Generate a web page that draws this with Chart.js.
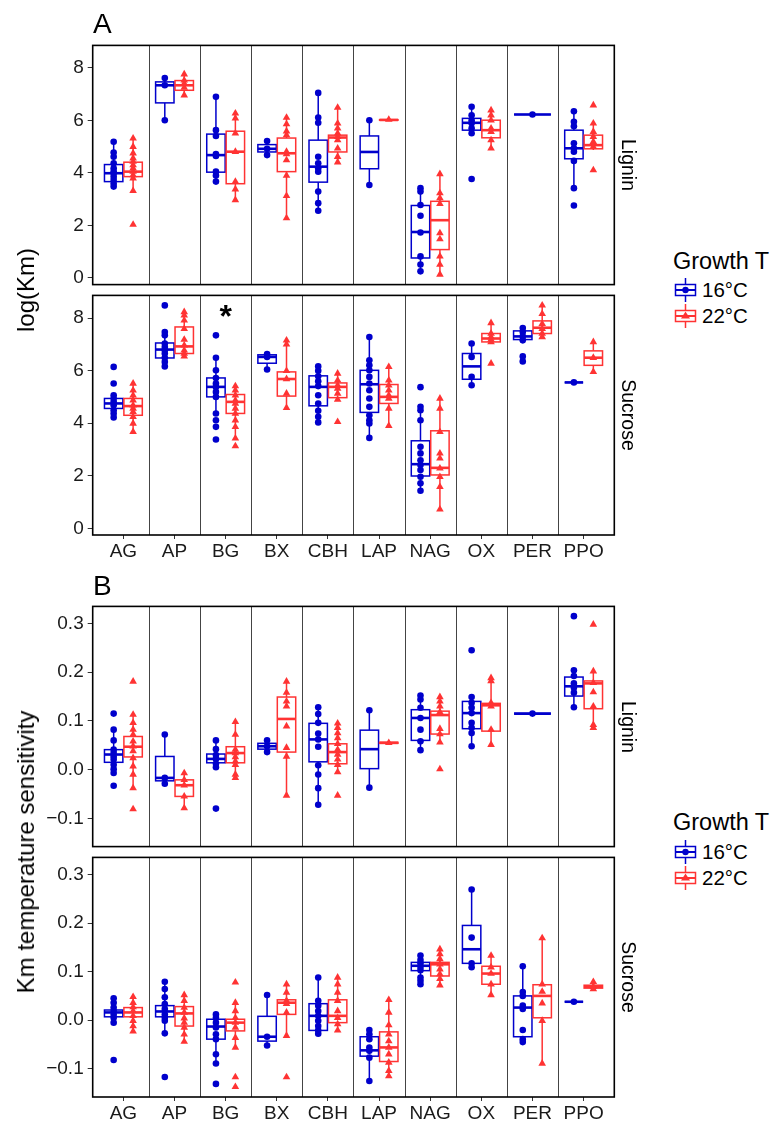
<!DOCTYPE html>
<html>
<head>
<meta charset="utf-8">
<script src="https://cdn.jsdelivr.net/npm/chart.js@4.4.0/dist/chart.umd.min.js"></script>
<style>
body { margin: 0; width: 777px; height: 1122px; overflow: hidden; background: #fff; position: relative;
       font-family: "Liberation Sans", Arial, Helvetica, sans-serif; }
canvas { position: absolute; left: 0; }
.lbl { position: absolute; color: #000; white-space: nowrap; line-height: 1; }
.key { position: absolute; }
</style>
</head>
<body>
<script>
const categories = ['AG', 'AP', 'BG', 'BX', 'CBH', 'LAP', 'NAG', 'OX', 'PER', 'PPO'];
const kmTicks = [0, 2, 4, 6, 8];
const sensTicks = [-0.1, 0, 0.1, 0.2, 0.3];
const blue = '#0000CC';
const red = '#FF3333';

// box stats per category: [lower whisker, Q1, median, Q3, upper whisker]; null = group absent
const ligninKm16Box = [
    [3.44, 3.67, 3.99, 4.32, 5.23], [6.01, 6.67, 7.34, 7.47, 7.62], [3.67, 4.03, 4.68, 5.48, 6.9],
    [4.68, 4.8, 4.92, 5.08, 5.22], [2.56, 3.65, 4.24, 5.25, 7.05], [3.54, 4.16, 4.8, 5.41, 6.01],
    [0.25, 0.76, 1.75, 2.76, 3.42], [5.51, 5.63, 5.91, 6.08, 6.52], [6.23, 6.23, 6.23, 6.23, 6.23],
    [3.42, 4.54, 4.94, 5.63, 6.35]
];
const ligninKm16Pts = [
    [5.19, 4.78, 4.62, 4.37, 4.18, 4.05, 3.99, 3.86, 3.73, 3.6, 3.48], [7.62, 7.34, 6.01],
    [6.9, 5.63, 5.41, 4.72, 4.65, 4.05, 3.9, 3.67], [5.22, 4.92, 4.68],
    [7.05, 6.11, 5.91, 4.62, 4.37, 4.18, 4.05, 3.29, 2.85, 2.56], [6.01, 3.54],
    [3.42, 3.29, 2.78, 2.37, 1.73, 0.82, 0.51, 0.25], [6.52, 6.2, 6.01, 5.89, 5.7, 5.51, 3.77],
    [6.23], [6.35, 5.95, 5.78, 5.13, 4.94, 4.81, 4.46, 3.42, 2.76]
];
const ligninKm22Box = [
    [3.29, 3.86, 4.05, 4.41, 5.32], [6.96, 7.15, 7.34, 7.52, 7.76], [2.97, 3.59, 4.81, 5.59, 6.27],
    [2.28, 4.05, 4.75, 5.33, 6.11], [4.41, 4.8, 5.35, 5.44, 6.49], [6.01, 6.01, 6.02, 6.03, 6.05],
    [0.13, 1.08, 2.2, 2.92, 3.96], [4.87, 5.34, 5.63, 6.01, 6.39], null,
    [4.87, 4.92, 5.06, 5.44, 5.89]
];
const ligninKm22Pts = [
    [5.32, 5.0, 4.75, 4.56, 4.43, 4.3, 4.18, 4.05, 3.92, 3.8, 3.32, 2.03], [7.76, 7.53, 7.41, 7.25, 6.96],
    [6.27, 6.08, 5.51, 4.81, 3.67, 3.38, 2.97], [6.11, 5.86, 5.59, 5.44, 4.81, 4.72, 4.49, 3.9, 3.13, 2.28],
    [6.49, 5.89, 5.7, 5.51, 5.38, 5.25, 4.94, 4.62, 4.41], [6.03],
    [3.96, 3.23, 3.04, 2.82, 1.71, 1.48, 0.82, 0.51, 0.13], [6.39, 6.2, 6.01, 5.7, 5.57, 5.25, 4.94],
    [], [6.58, 5.89, 5.57, 5.38, 5.19, 5.0, 4.11]
];

const sucroseKm16Box = [
    [4.22, 4.56, 4.75, 4.94, 5.06], [6.16, 6.48, 6.8, 7.05, 7.47], [4.37, 5.0, 5.38, 5.72, 6.49],
    [6.04, 6.28, 6.52, 6.6, 6.63], [4.03, 4.66, 5.38, 5.8, 6.16], [3.44, 4.41, 5.48, 6.01, 7.28],
    [1.43, 1.99, 2.44, 3.33, 4.62], [5.44, 5.67, 6.16, 6.65, 7.03], [7.15, 7.18, 7.3, 7.51, 7.62],
    [5.55, 5.55, 5.55, 5.55, 5.55]
];
const sucroseKm16Pts = [
    [6.14, 5.51, 5.06, 4.94, 4.81, 4.68, 4.49, 4.37, 4.22], [8.48, 7.47, 7.34, 7.03, 6.9, 6.77, 6.65, 6.49, 6.33, 6.16],
    [7.34, 6.49, 6.01, 5.72, 5.51, 5.38, 5.19, 5.0, 4.37, 4.11, 3.86, 3.38], [6.63, 6.52, 6.04],
    [6.16, 5.99, 5.78, 5.59, 5.41, 5.06, 4.75, 4.47, 4.24, 4.03],
    [7.28, 6.39, 6.2, 6.01, 5.76, 5.51, 5.25, 4.94, 4.62, 4.3, 4.11, 3.99, 3.44],
    [5.37, 4.62, 4.49, 4.11, 3.1, 2.85, 2.59, 2.41, 2.22, 1.96, 1.71, 1.43], [7.03, 6.52, 5.76, 5.44],
    [7.62, 7.47, 7.3, 7.15, 6.54, 6.35], [5.55]
];
const sucroseKm22Box = [
    [3.67, 4.3, 4.65, 4.94, 5.51], [6.54, 6.65, 6.92, 7.66, 8.23], [3.42, 4.37, 4.81, 5.09, 5.41],
    [4.58, 5.03, 5.68, 5.95, 7.15], [4.87, 4.97, 5.38, 5.53, 5.89], [3.9, 4.75, 5.0, 5.47, 6.14],
    [0.72, 2.03, 2.3, 3.71, 4.94], [7.09, 7.09, 7.22, 7.41, 7.81], [7.28, 7.41, 7.63, 7.89, 8.48],
    [5.95, 6.2, 6.49, 6.75, 7.09]
];
const sucroseKm22Pts = [
    [5.51, 5.25, 5.06, 4.87, 4.68, 4.56, 4.43, 4.24, 3.99, 3.67], [8.23, 8.1, 7.91, 7.59, 7.18, 6.96, 6.77, 6.65, 6.54],
    [5.41, 5.25, 5.06, 4.87, 4.75, 4.56, 4.37, 4.11, 3.86, 3.42, 3.13], [7.15, 7.0, 5.99, 5.68, 5.13, 4.58],
    [5.89, 5.63, 5.44, 5.32, 5.13, 4.9, 4.05], [6.14, 5.63, 5.44, 5.25, 5.06, 4.94, 4.56, 3.9],
    [4.94, 4.56, 3.67, 2.85, 2.66, 2.28, 1.96, 1.58, 0.72], [7.81, 7.41, 7.28, 7.18, 7.09, 6.27],
    [8.48, 8.16, 7.78, 7.59, 7.41, 7.28], [7.09, 6.49, 5.95]
];

const ligninSens16Box = [
    [-0.007, 0.015, 0.031, 0.041, 0.082], [-0.029, -0.023, -0.017, 0.027, 0.072], [0.005, 0.014, 0.022, 0.032, 0.06],
    [0.036, 0.042, 0.048, 0.054, 0.06], [-0.072, 0.016, 0.062, 0.095, 0.128], [-0.037, 0.002, 0.042, 0.081, 0.122],
    [0.04, 0.06, 0.106, 0.123, 0.152], [0.048, 0.084, 0.116, 0.14, 0.149], [0.115, 0.115, 0.115, 0.115, 0.115],
    [0.128, 0.151, 0.171, 0.19, 0.204]
];
const ligninSens16Pts = [
    [0.115, 0.082, 0.06, 0.041, 0.034, 0.027, 0.021, 0.01, 0.001, -0.007, -0.033], [0.072, -0.017, -0.029],
    [0.06, 0.042, 0.03, 0.022, 0.012, 0.005, -0.08], [0.06, 0.048, 0.036],
    [0.128, 0.114, 0.096, 0.074, 0.062, 0.047, 0.009, -0.01, -0.038, -0.072], [0.122, -0.037],
    [0.152, 0.144, 0.127, 0.106, 0.082, 0.058, 0.04], [0.245, 0.149, 0.137, 0.127, 0.116, 0.096, 0.086, 0.075, 0.048],
    [0.115], [0.315, 0.204, 0.192, 0.177, 0.168, 0.158, 0.128]
];
const ligninSens22Box = [
    [-0.038, 0.026, 0.047, 0.068, 0.113], [-0.079, -0.055, -0.032, -0.021, -0.007], [-0.017, 0.014, 0.034, 0.047, 0.098],
    [-0.053, 0.036, 0.104, 0.149, 0.181], [-0.005, 0.012, 0.036, 0.053, 0.095], [0.053, 0.054, 0.055, 0.056, 0.057],
    [0.053, 0.073, 0.112, 0.12, 0.149], [0.051, 0.079, 0.132, 0.136, 0.188], null,
    [0.086, 0.125, 0.177, 0.182, 0.202]
];
const ligninSens22Pts = [
    [0.181, 0.113, 0.096, 0.082, 0.072, 0.058, 0.048, 0.038, 0.024, 0.007, -0.01, -0.038, -0.081],
    [-0.007, -0.021, -0.032, -0.055, -0.079], [0.098, 0.072, 0.041, 0.034, 0.026, 0.017, 0.01, -0.01, -0.017],
    [0.181, 0.158, 0.14, 0.13, 0.089, 0.045, 0.027, -0.053],
    [0.095, 0.086, 0.075, 0.065, 0.053, 0.041, 0.031, 0.021, 0.01, -0.005, -0.053], [0.055],
    [0.149, 0.14, 0.13, 0.118, 0.084, 0.073, 0.056, 0.001], [0.188, 0.182, 0.137, 0.13, 0.082, 0.051],
    [], [0.298, 0.202, 0.178, 0.159, 0.13, 0.092, 0.086]
];

const sucroseSens16Box = [
    [-0.005, 0.007, 0.016, 0.021, 0.045], [-0.027, 0.007, 0.018, 0.03, 0.079], [-0.089, -0.039, -0.013, 0.002, 0.012],
    [-0.052, -0.043, -0.034, 0.008, 0.052], [-0.028, -0.021, 0.009, 0.034, 0.088], [-0.125, -0.074, -0.062, -0.034, -0.02],
    [0.081, 0.102, 0.112, 0.119, 0.133], [0.109, 0.117, 0.146, 0.195, 0.269], [-0.045, -0.034, 0.026, 0.05, 0.111],
    [0.038, 0.038, 0.038, 0.038, 0.038]
];
const sucroseSens16Pts = [
    [0.045, 0.036, 0.026, 0.019, 0.012, 0.005, -0.005, -0.082],
    [0.079, 0.064, 0.047, 0.033, 0.023, 0.012, 0.005, -0.001, -0.027, -0.117],
    [0.012, 0.005, -0.005, -0.015, -0.029, -0.039, -0.07, -0.089, -0.131], [0.052, -0.034, -0.052],
    [0.088, 0.04, 0.03, 0.019, 0.009, -0.001, -0.012, -0.021, -0.028],
    [-0.02, -0.029, -0.039, -0.056, -0.063, -0.077, -0.125],
    [0.133, 0.124, 0.117, 0.11, 0.103, 0.088, 0.081, 0.074], [0.269, 0.17, 0.117, 0.109],
    [0.111, 0.058, 0.05, 0.03, 0.023, -0.02, -0.039, -0.045], [0.038]
];
const sucroseSens22Box = [
    [-0.023, 0.007, 0.016, 0.026, 0.048], [-0.044, -0.012, 0.014, 0.028, 0.052], [-0.056, -0.022, -0.005, 0.002, 0.036],
    [-0.032, 0.012, 0.036, 0.042, 0.074], [-0.021, -0.005, 0.009, 0.042, 0.088], [-0.115, -0.085, -0.056, -0.024, 0.042],
    [0.072, 0.091, 0.115, 0.119, 0.146], [0.052, 0.074, 0.096, 0.111, 0.133], [-0.089, 0.005, 0.05, 0.073, 0.169],
    [0.064, 0.066, 0.069, 0.072, 0.079]
];
const sucroseSens22Pts = [
    [0.048, 0.036, 0.027, 0.019, 0.009, -0.001, -0.012, -0.023],
    [0.052, 0.04, 0.026, 0.016, 0.004, -0.005, -0.015, -0.029, -0.044],
    [0.078, 0.036, 0.019, 0.005, -0.005, -0.015, -0.036, -0.056, -0.117, -0.137],
    [0.074, 0.057, 0.04, 0.034, 0.016, -0.032, -0.117], [0.088, 0.074, 0.057, 0.04, 0.019, 0.005, -0.008, -0.021],
    [0.042, 0.016, -0.01, -0.029, -0.043, -0.056, -0.07, -0.087, -0.104, -0.115],
    [0.146, 0.136, 0.126, 0.115, 0.105, 0.095, 0.085, 0.072], [0.133, 0.109, 0.096, 0.074, 0.052],
    [0.169, 0.074, 0.059, 0.035, -0.001, -0.089], [0.079, 0.069, 0.064]
];

const fontFamily = '"Liberation Sans", Arial, Helvetica, sans-serif';
const dodge = 0.19;

function boxPlugin(groups) {
    return {
        id: 'boxes',
        beforeDatasetsDraw(chart) {
            const { ctx, chartArea: a, scales: { x, y } } = chart;
            ctx.save();
            ctx.strokeStyle = '#444';
            ctx.lineWidth = 1;
            for (let i = 1; i < categories.length; i++) {
                const px = Math.round(x.getPixelForValue(i + 0.5)) + 0.5;
                ctx.beginPath();
                ctx.moveTo(px, a.top);
                ctx.lineTo(px, a.bottom);
                ctx.stroke();
            }
            groups.forEach(g => {
                g.boxes.forEach((b, i) => {
                    if (!b) return;
                    const solo = !g.other[i];
                    const cx = i + 1 + (solo ? 0 : g.offset);
                    const hw = solo ? 0.36 : 0.18;
                    const l = x.getPixelForValue(cx - hw);
                    const r = x.getPixelForValue(cx + hw);
                    const c = x.getPixelForValue(cx);
                    const [mn, q1, md, q3, mx] = b.map(v => y.getPixelForValue(v));
                    ctx.strokeStyle = g.color;
                    ctx.lineWidth = 1.5;
                    ctx.beginPath();
                    ctx.moveTo(c, mx); ctx.lineTo(c, q3);
                    ctx.moveTo(c, q1); ctx.lineTo(c, mn);
                    ctx.stroke();
                    ctx.fillStyle = '#fff';
                    ctx.fillRect(l, q3, r - l, q1 - q3);
                    ctx.strokeRect(l, q3, r - l, q1 - q3);
                    ctx.lineWidth = 2.6;
                    ctx.beginPath();
                    ctx.moveTo(l, md); ctx.lineTo(r, md);
                    ctx.stroke();
                });
            });
            ctx.restore();
        },
        afterDraw(chart) {
            const { ctx, chartArea: a } = chart;
            ctx.save();
            ctx.strokeStyle = '#000';
            ctx.lineWidth = 1.6;
            ctx.strokeRect(a.left, a.top, a.right - a.left, a.bottom - a.top);
            ctx.restore();
        }
    };
}

function pointData(pts, other, offset) {
    const out = [];
    pts.forEach((vals, i) => {
        const cx = i + 1 + (other[i] ? offset : 0);
        vals.forEach(v => out.push({ x: cx, y: v }));
    });
    return out;
}

function makePanel(top, areaH, withX, box16, pts16, box22, pts22, yMin, yMax, yTicks, fmt) {
    const padTop = 15;
    const padBottom = withX ? 0 : 15;
    const xH = withX ? 25 : 0;
    const canvas = document.createElement('canvas');
    canvas.width = 660;
    canvas.height = padTop + areaH + padBottom + xH;
    canvas.style.top = (top - padTop) + 'px';
    document.body.appendChild(canvas);

    const tickFont = { size: 19, family: fontFamily };
    new Chart(canvas, {
        type: 'scatter',
        data: {
            datasets: [
                {
                    data: pointData(pts16, box22, -dodge),
                    pointStyle: 'circle', pointRadius: 3.3, borderWidth: 0,
                    backgroundColor: blue
                },
                {
                    data: pointData(pts22, box16, dodge),
                    pointStyle: 'triangle', pointRadius: 4.4, borderWidth: 0,
                    backgroundColor: red
                }
            ]
        },
        options: {
            responsive: false,
            animation: false,
            events: [],
            layout: { padding: { top: padTop, bottom: padBottom, left: 0, right: 660 - 614.3 } },
            plugins: { legend: { display: false }, tooltip: { enabled: false } },
            scales: {
                x: {
                    type: 'linear', min: 0.4, max: 10.6, display: withX,
                    afterBuildTicks: s => { s.ticks = categories.map((c, i) => ({ value: i + 1 })); },
                    afterFit: s => { s.height = xH; },
                    grid: { drawOnChartArea: false, drawTicks: true, tickLength: 4, color: '#333' },
                    border: { display: false },
                    ticks: {
                        autoSkip: false, maxRotation: 0, padding: 1, color: '#1a1a1a', font: tickFont,
                        callback: v => categories[Math.round(v) - 1]
                    }
                },
                y: {
                    type: 'linear', min: yMin, max: yMax,
                    afterBuildTicks: s => { s.ticks = yTicks.map(v => ({ value: v })); },
                    afterFit: s => { s.width = 92.7; },
                    grid: { drawOnChartArea: false, drawTicks: true, tickLength: 5, color: '#333' },
                    border: { display: false },
                    ticks: { padding: 4, color: '#1a1a1a', font: tickFont, callback: fmt }
                }
            }
        },
        plugins: [boxPlugin([
            { boxes: box16, other: box22, offset: -dodge, color: blue },
            { boxes: box22, other: box16, offset: dodge, color: red }
        ])]
    });
}

function addLabel(text, x, y, size, extra) {
    const d = document.createElement('div');
    d.className = 'lbl';
    d.textContent = text;
    d.style.left = x + 'px';
    d.style.top = y + 'px';
    d.style.fontSize = size + 'px';
    d.style.transform = extra || 'translate(-50%, -50%)';
    document.body.appendChild(d);
    return d;
}

function addLegend(titleY, y16, y22) {
    addLabel('Growth T', 673, titleY, 23.5, 'translateY(-50%)');
    [[y16, blue, '16°C', 'circle'], [y22, red, '22°C', 'tri']].forEach(([yy, col, txt, shape]) => {
        const k = document.createElement('div');
        k.className = 'key';
        k.style.left = '674px';
        k.style.top = (yy - 12) + 'px';
        const mark = shape === 'circle'
            ? `<circle cx="11.5" cy="12" r="3.2" fill="${col}"/>`
            : `<polygon points="11.5,7.5 16,14.5 7,14.5" fill="${col}"/>`;
        k.innerHTML = `<svg width="23" height="24">
            <line x1="11.5" y1="0" x2="11.5" y2="24" stroke="${col}" stroke-width="1.5"/>
            <rect x="1.5" y="6.5" width="20" height="11" fill="#fff" stroke="${col}" stroke-width="1.5"/>
            <line x1="1.5" y1="12" x2="21.5" y2="12" stroke="${col}" stroke-width="2"/>
            ${mark}</svg>`;
        document.body.appendChild(k);
        addLabel(txt, 702, yy, 20.5, 'translateY(-50%)');
    });
}

const intFmt = v => String(v);
const decFmt = v => v.toFixed(1).replace('-', '\u2212');

makePanel(45, 240, false, ligninKm16Box, ligninKm16Pts, ligninKm22Box, ligninKm22Pts, -0.254, 8.86, kmTicks, intFmt);
makePanel(295, 240, true, sucroseKm16Box, sucroseKm16Pts, sucroseKm22Box, sucroseKm22Pts, -0.254, 8.86, kmTicks, intFmt);
makePanel(606, 241, false, ligninSens16Box, ligninSens16Pts, ligninSens22Box, ligninSens22Pts, -0.158, 0.335, sensTicks, decFmt);
makePanel(857, 240, true, sucroseSens16Box, sucroseSens16Pts, sucroseSens22Box, sucroseSens22Pts, -0.158, 0.335, sensTicks, decFmt);

addLabel('A', 93, 24, 28, 'translateY(-50%)');
addLabel('B', 93, 585.5, 28, 'translateY(-50%)');
addLabel('log(Km)', 26, 290, 24, 'translate(-50%, -50%) rotate(-90deg)');
addLabel('Km temperature sensitivity', 26, 851.5, 24, 'translate(-50%, -50%) rotate(-90deg)');
addLabel('Lignin', 628, 165, 19.5, 'translate(-50%, -50%) rotate(90deg)');
addLabel('Sucrose', 628, 415, 19.5, 'translate(-50%, -50%) rotate(90deg)');
addLabel('Lignin', 628, 726.5, 19.5, 'translate(-50%, -50%) rotate(90deg)');
addLabel('Sucrose', 628, 977, 19.5, 'translate(-50%, -50%) rotate(90deg)');
const star = addLabel('*', 225.7, 300, 32, 'translateX(-50%)');
star.style.fontWeight = 'bold';
addLegend(262, 290, 316);
addLegend(823, 851.5, 878);
</script>
</body>
</html>
